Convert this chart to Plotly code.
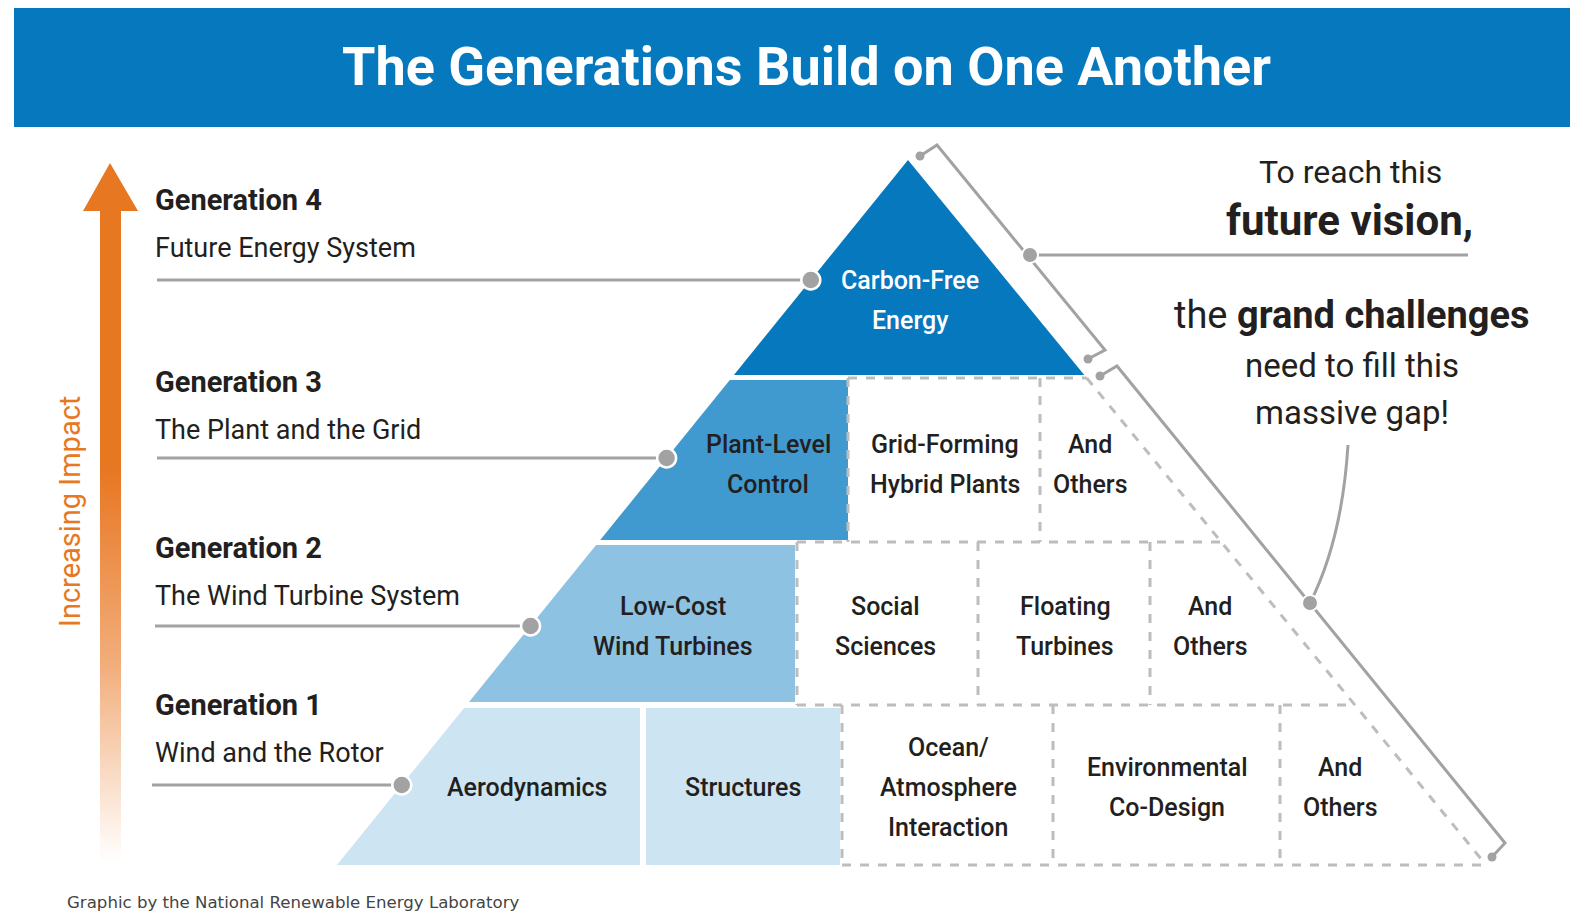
import plotly.graph_objects as go

# ---------------- data (text content) ----------------
title_text = "The Generations Build on One Another"
gen_titles = ["Generation 4", "Generation 3", "Generation 2", "Generation 1"]
gen_subtitles = ["Future Energy System", "The Plant and the Grid",
                 "The Wind Turbine System", "Wind and the Rotor"]
core_labels = [["Carbon-Free<br>Energy"],
               ["Plant-Level<br>Control"],
               ["Low-Cost<br>Wind Turbines"],
               ["Aerodynamics", "Structures"]]
gap_labels = [[],
              ["Grid-Forming<br>Hybrid Plants", "And<br>Others"],
              ["Social<br>Sciences", "Floating<br>Turbines", "And<br>Others"],
              ["Ocean/<br>Atmosphere<br>Interaction", "Environmental<br>Co-Design", "And<br>Others"]]
axis_label = "Increasing Impact"
vision_lines = ["To reach this", "<b>future vision,</b>"]
gap_lines = ["the <b>grand challenges</b>", "need to fill this", "massive gap!"]
credit = "Graphic by the National Renewable Energy Laboratory"

# ---------------- geometry / style ----------------
W, H = 1570, 913
FONT = "Roboto, Liberation Sans, sans-serif"
BLUE = "#0578BE"
TIER_COLORS = ["#0578BE", "#419ACF", "#8DC2E3", "#CDE4F2"]
ORANGE = "#E87722"
GRAY = "#A2A2A2"
DASH = "#BDBDBD"
TXT = "#231F20"
LINE_GAP = 40

APEX_X, APEX_Y = 908, 160
SL, SR = 0.81, 0.82
tiers = [(160, 375), (380, 540), (545, 702), (708, 865)]
core_right = [None, 848, 795, 840]
tier1_split = (640, 646)
dash_bounds = [378, 542, 705, 865]
dash_start = [848, 797, 797, 842]
dash_verticals = [[], [848, 1040], [797, 978, 1150], [842, 1053, 1280]]
gap_centers = [[], [945, 1090], [885, 1065, 1210], [948, 1167, 1340]]
core_centers = [[910], [768], [673], [527, 743]]
label_cy = [300, 464, 626, 787]
gen_line_y = [280, 458, 626, 785]
gen_line_x0 = [157, 157, 155, 152]
gen_title_y = [200, 382, 548, 705]


def left(y):
    return APEX_X - SL * (y - APEX_Y)


def right(y):
    return APEX_X + SR * (y - APEX_Y)


def poly(pts):
    return "M " + " L ".join(f"{x:.1f},{y:.1f}" for x, y in pts) + " Z"


shapes = []
annotations = []
fig = go.Figure()


def stacked(text, x, cy, size, color, weight=500):
    parts = text.split("<br>")
    n = len(parts)
    for k, p in enumerate(parts):
        y = cy + (k - (n - 1) / 2) * LINE_GAP
        annotations.append(dict(x=x, y=y, text=p, showarrow=False,
                                font=dict(family=FONT, size=size, weight=weight, color=color)))


# title bar
shapes.append(dict(type="rect", x0=14, x1=W, y0=8, y1=127, fillcolor=BLUE, line_width=0, layer="below"))
annotations.append(dict(x=806, y=66, text=title_text, showarrow=False,
                        font=dict(family=FONT, size=54, color="white", weight="bold")))

# pyramid core tiers
t0, t1 = tiers[0]
shapes.append(dict(type="path", path=poly([(APEX_X, t0), (left(t1), t1), (right(t1), t1)]),
                   fillcolor=TIER_COLORS[0], line_width=0, layer="below"))
for i in (1, 2):
    a, b = tiers[i]
    shapes.append(dict(type="path",
                       path=poly([(left(a), a), (core_right[i], a), (core_right[i], b), (left(b), b)]),
                       fillcolor=TIER_COLORS[i], line_width=0, layer="below"))
a, b = tiers[3]
shapes.append(dict(type="path",
                   path=poly([(left(a), a), (tier1_split[0], a), (tier1_split[0], b), (left(b), b)]),
                   fillcolor=TIER_COLORS[3], line_width=0, layer="below"))
shapes.append(dict(type="rect", x0=tier1_split[1], x1=core_right[3], y0=a, y1=b,
                   fillcolor=TIER_COLORS[3], line_width=0, layer="below"))

# dashed gap cells
dline = dict(color=DASH, width=3, dash="dash")
for y, xs in zip(dash_bounds, dash_start):
    shapes.append(dict(type="line", x0=xs, x1=right(y), y0=y, y1=y, line=dline, layer="below"))
for i in range(1, 4):
    y0, y1 = dash_bounds[i - 1], dash_bounds[i]
    for xv in dash_verticals[i]:
        shapes.append(dict(type="line", x0=xv, x1=xv, y0=y0, y1=y1, line=dline, layer="below"))
shapes.append(dict(type="line", x0=right(dash_bounds[0]), y0=dash_bounds[0],
                   x1=right(dash_bounds[-1]), y1=dash_bounds[-1], line=dline, layer="below"))

# bracket lines
gline = dict(color=GRAY, width=3)
brackets = [[(920, 156), (937, 145), (1105, 350), (1088, 359)],
            [(1100, 376), (1117, 366), (1505, 843), (1492, 857)]]
for br in brackets:
    fig.add_trace(go.Scatter(x=[p[0] for p in br], y=[p[1] for p in br], mode="lines",
                             line=gline, hoverinfo="skip"))
    fig.add_trace(go.Scatter(x=[br[0][0], br[-1][0]], y=[br[0][1], br[-1][1]], mode="markers",
                             marker=dict(size=9, color=GRAY), hoverinfo="skip"))
# vision pointer
fig.add_trace(go.Scatter(x=[1030, 1468], y=[255, 255], mode="lines", line=gline, hoverinfo="skip"))
shapes.append(dict(type="path", path="M 1348,445 Q 1342,540 1310,603", line=gline, layer="below"))
fig.add_trace(go.Scatter(x=[1030, 1310], y=[255, 603], mode="markers",
                         marker=dict(size=16, color=GRAY, line=dict(color="white", width=2)),
                         hoverinfo="skip"))

# generation leader lines
for y, x0 in zip(gen_line_y, gen_line_x0):
    fig.add_trace(go.Scatter(x=[x0, left(y)], y=[y, y], mode="lines", line=gline, hoverinfo="skip"))
fig.add_trace(go.Scatter(x=[left(y) for y in gen_line_y], y=gen_line_y, mode="markers",
                         marker=dict(size=19, color=GRAY, line=dict(color="white", width=2.5)),
                         hoverinfo="skip"))

# generation texts
for t, s, y in zip(gen_titles, gen_subtitles, gen_title_y):
    annotations.append(dict(x=153, y=y, text=f"<b>{t}</b>", xanchor="left", showarrow=False,
                            font=dict(family=FONT, size=29, color=TXT)))
    annotations.append(dict(x=153, y=y + 48, text=s, xanchor="left", showarrow=False,
                            font=dict(family=FONT, size=27, color=TXT)))

# pyramid labels
for i, (labs, cx) in enumerate(zip(core_labels, core_centers)):
    for lab, x in zip(labs, cx):
        stacked(lab, x, label_cy[i], 25, "white" if i == 0 else TXT)
for i, (labs, cx) in enumerate(zip(gap_labels, gap_centers)):
    for lab, x in zip(labs, cx):
        stacked(lab, x, label_cy[i], 25, TXT)

# orange impact arrow
fig.add_trace(go.Scatter(x=[100, 121, 121, 100, 100], y=[205, 205, 862, 862, 205], mode="lines",
                         fill="toself", line=dict(width=0, color="rgba(0,0,0,0)"),
                         fillgradient=dict(type="vertical", start=470, stop=862,
                                           colorscale=[[0, ORANGE], [0.5, "#F2AE7C"], [1, "rgba(255,255,255,1)"]]),
                         hoverinfo="skip"))
shapes.append(dict(type="path", path=poly([(110, 163), (83, 211), (138, 211)]),
                   fillcolor=ORANGE, line_width=0, layer="below"))
annotations.append(dict(x=70, y=512, text=axis_label, textangle=-90, showarrow=False,
                        font=dict(family=FONT, size=29, color=ORANGE)))

# right side text
annotations.append(dict(x=1350, y=172, text=vision_lines[0], showarrow=False,
                        font=dict(family=FONT, size=32, color=TXT)))
annotations.append(dict(x=1349, y=220, text=vision_lines[1], showarrow=False,
                        font=dict(family=FONT, size=42, color=TXT)))
annotations.append(dict(x=1352, y=315, text=gap_lines[0], showarrow=False,
                        font=dict(family=FONT, size=38, color=TXT)))
annotations.append(dict(x=1352, y=365, text=gap_lines[1], showarrow=False,
                        font=dict(family=FONT, size=33, color=TXT)))
annotations.append(dict(x=1352, y=412, text=gap_lines[2], showarrow=False,
                        font=dict(family=FONT, size=33, color=TXT)))

annotations.append(dict(x=65, y=902, text=credit, xanchor="left", showarrow=False,
                        font=dict(family="DejaVu Sans, sans-serif", size=16.6, color="#444444")))

fig.update_layout(width=W, height=H, margin=dict(l=0, r=0, t=0, b=0),
                  xaxis=dict(range=[0, W], visible=False, fixedrange=True),
                  yaxis=dict(range=[H, 0], visible=False, fixedrange=True),
                  plot_bgcolor="white", paper_bgcolor="white", showlegend=False,
                  shapes=shapes, annotations=annotations)
fig.write_html("out.html", config={"displayModeBar": False},
               post_script="document.body.style.margin='0';document.body.style.overflow='hidden';")
